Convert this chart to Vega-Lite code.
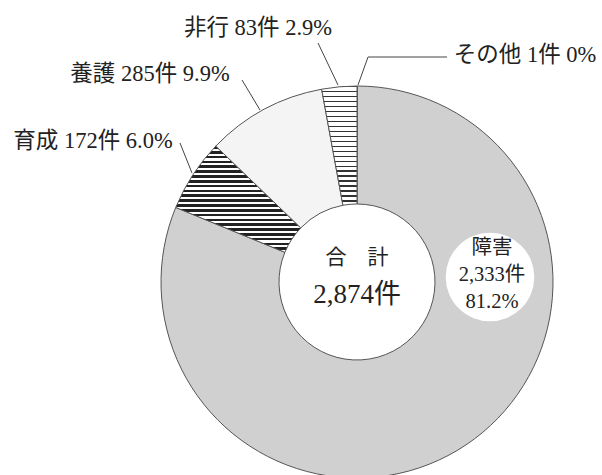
{
  "$schema": "https://vega.github.io/schema/vega-lite/v6.json",
  "width": 400,
  "height": 386,
  "autosize": {"type": "none"},
  "padding": {"left": 157, "top": 89, "right": 45, "bottom": 0},
  "background": "white",
  "config": {"view": {"stroke": null}, "text": {"font": "Liberation Serif, Noto Sans CJK JP", "color": "#222"}},
  "datasets": {
    "slices": [
      {"cat": "その他", "count": 1, "pct": 0.0, "ord": 1},
      {"cat": "障害", "count": 2333, "pct": 81.2, "ord": 2},
      {"cat": "育成", "count": 172, "pct": 6.0, "ord": 3},
      {"cat": "養護", "count": 285, "pct": 9.9, "ord": 4},
      {"cat": "非行", "count": 83, "pct": 2.9, "ord": 5}
    ],
    "outer_labels": [
      {"label": "非行 83件 2.9%", "lx": -0.495, "ly": 1.27},
      {"label": "その他 1件 0%", "lx": 0.84, "ly": 1.135},
      {"label": "養護 285件 9.9%", "lx": -1.035, "ly": 1.04},
      {"label": "育成 172件 6.0%", "lx": -1.32, "ly": 0.705}
    ],
    "leaders": [
      {"x": -0.195, "y": 1.195, "x2": -0.095, "y2": 0.985},
      {"x": 0.005, "y": 0.985, "x2": 0.055, "y2": 1.125},
      {"x": 0.055, "y": 1.125, "x2": 0.45, "y2": 1.125},
      {"x": -0.575, "y": 1.01, "x2": -0.485, "y2": 0.86},
      {"x": -0.885, "y": 0.695, "x2": -0.825, "y2": 0.545}
    ],
    "main_label": [
      {"label": "障害", "lx": 0.675, "ly": 0.17},
      {"label": "2,333件", "lx": 0.675, "ly": 0.035},
      {"label": "81.2%", "lx": 0.675, "ly": -0.1}
    ],
    "main_bg": [{"lx": 0.665, "ly": 0.025}],
    "center_title": [{"label": "合　計", "lx": 0, "ly": 0.12}],
    "center_total": [{"label": "2,874件", "lx": 0, "ly": -0.065}]
  },
  "layer": [
    {
      "data": {"name": "slices"},
      "mark": {"type": "arc", "outerRadius": 196, "innerRadius": 78, "stroke": "#555", "strokeWidth": 1},
      "encoding": {
        "theta": {"field": "count", "type": "quantitative", "stack": true},
        "order": {"field": "ord", "type": "quantitative", "sort": "ascending"},
        "fill": {
          "condition": [
            {"test": "datum.cat === '障害'", "value": "#d0d0d0"},
            {"test": "datum.cat === '養護'", "value": "#f4f4f4"},
            {"test": "datum.cat === '育成'", "value": {
              "gradient": "linear", "x1": 0, "y1": 0, "x2": 0, "y2": 1,
              "stops": [
                {"offset": 0, "color": "#222"}, {"offset": 0.025, "color": "#222"}, {"offset": 0.025, "color": "#fff"}, {"offset": 0.04545, "color": "#fff"},
                {"offset": 0.04545, "color": "#222"}, {"offset": 0.07045, "color": "#222"}, {"offset": 0.07045, "color": "#fff"}, {"offset": 0.09091, "color": "#fff"},
                {"offset": 0.09091, "color": "#222"}, {"offset": 0.11591, "color": "#222"}, {"offset": 0.11591, "color": "#fff"}, {"offset": 0.13636, "color": "#fff"},
                {"offset": 0.13636, "color": "#222"}, {"offset": 0.16136, "color": "#222"}, {"offset": 0.16136, "color": "#fff"}, {"offset": 0.18182, "color": "#fff"},
                {"offset": 0.18182, "color": "#222"}, {"offset": 0.20682, "color": "#222"}, {"offset": 0.20682, "color": "#fff"}, {"offset": 0.22727, "color": "#fff"},
                {"offset": 0.22727, "color": "#222"}, {"offset": 0.25227, "color": "#222"}, {"offset": 0.25227, "color": "#fff"}, {"offset": 0.27273, "color": "#fff"},
                {"offset": 0.27273, "color": "#222"}, {"offset": 0.29773, "color": "#222"}, {"offset": 0.29773, "color": "#fff"}, {"offset": 0.31818, "color": "#fff"},
                {"offset": 0.31818, "color": "#222"}, {"offset": 0.34318, "color": "#222"}, {"offset": 0.34318, "color": "#fff"}, {"offset": 0.36364, "color": "#fff"},
                {"offset": 0.36364, "color": "#222"}, {"offset": 0.38864, "color": "#222"}, {"offset": 0.38864, "color": "#fff"}, {"offset": 0.40909, "color": "#fff"},
                {"offset": 0.40909, "color": "#222"}, {"offset": 0.43409, "color": "#222"}, {"offset": 0.43409, "color": "#fff"}, {"offset": 0.45455, "color": "#fff"},
                {"offset": 0.45455, "color": "#222"}, {"offset": 0.47955, "color": "#222"}, {"offset": 0.47955, "color": "#fff"}, {"offset": 0.5, "color": "#fff"},
                {"offset": 0.5, "color": "#222"}, {"offset": 0.525, "color": "#222"}, {"offset": 0.525, "color": "#fff"}, {"offset": 0.54545, "color": "#fff"},
                {"offset": 0.54545, "color": "#222"}, {"offset": 0.57045, "color": "#222"}, {"offset": 0.57045, "color": "#fff"}, {"offset": 0.59091, "color": "#fff"},
                {"offset": 0.59091, "color": "#222"}, {"offset": 0.61591, "color": "#222"}, {"offset": 0.61591, "color": "#fff"}, {"offset": 0.63636, "color": "#fff"},
                {"offset": 0.63636, "color": "#222"}, {"offset": 0.66136, "color": "#222"}, {"offset": 0.66136, "color": "#fff"}, {"offset": 0.68182, "color": "#fff"},
                {"offset": 0.68182, "color": "#222"}, {"offset": 0.70682, "color": "#222"}, {"offset": 0.70682, "color": "#fff"}, {"offset": 0.72727, "color": "#fff"},
                {"offset": 0.72727, "color": "#222"}, {"offset": 0.75227, "color": "#222"}, {"offset": 0.75227, "color": "#fff"}, {"offset": 0.77273, "color": "#fff"},
                {"offset": 0.77273, "color": "#222"}, {"offset": 0.79773, "color": "#222"}, {"offset": 0.79773, "color": "#fff"}, {"offset": 0.81818, "color": "#fff"},
                {"offset": 0.81818, "color": "#222"}, {"offset": 0.84318, "color": "#222"}, {"offset": 0.84318, "color": "#fff"}, {"offset": 0.86364, "color": "#fff"},
                {"offset": 0.86364, "color": "#222"}, {"offset": 0.88864, "color": "#222"}, {"offset": 0.88864, "color": "#fff"}, {"offset": 0.90909, "color": "#fff"},
                {"offset": 0.90909, "color": "#222"}, {"offset": 0.93409, "color": "#222"}, {"offset": 0.93409, "color": "#fff"}, {"offset": 0.95455, "color": "#fff"},
                {"offset": 0.95455, "color": "#222"}, {"offset": 0.97955, "color": "#222"}, {"offset": 0.97955, "color": "#fff"}, {"offset": 1, "color": "#fff"}
              ]
            }},
            {"test": "datum.cat === '非行'", "value": {
              "gradient": "linear", "x1": 0, "y1": 0, "x2": 0, "y2": 1,
              "stops": [
                {"offset": 0, "color": "#333"}, {"offset": 0.01167, "color": "#333"}, {"offset": 0.01167, "color": "#fff"}, {"offset": 0.04167, "color": "#fff"},
                {"offset": 0.04167, "color": "#333"}, {"offset": 0.05333, "color": "#333"}, {"offset": 0.05333, "color": "#fff"}, {"offset": 0.08333, "color": "#fff"},
                {"offset": 0.08333, "color": "#333"}, {"offset": 0.095, "color": "#333"}, {"offset": 0.095, "color": "#fff"}, {"offset": 0.125, "color": "#fff"},
                {"offset": 0.125, "color": "#333"}, {"offset": 0.13667, "color": "#333"}, {"offset": 0.13667, "color": "#fff"}, {"offset": 0.16667, "color": "#fff"},
                {"offset": 0.16667, "color": "#333"}, {"offset": 0.17833, "color": "#333"}, {"offset": 0.17833, "color": "#fff"}, {"offset": 0.20833, "color": "#fff"},
                {"offset": 0.20833, "color": "#333"}, {"offset": 0.22, "color": "#333"}, {"offset": 0.22, "color": "#fff"}, {"offset": 0.25, "color": "#fff"},
                {"offset": 0.25, "color": "#333"}, {"offset": 0.26167, "color": "#333"}, {"offset": 0.26167, "color": "#fff"}, {"offset": 0.29167, "color": "#fff"},
                {"offset": 0.29167, "color": "#333"}, {"offset": 0.30333, "color": "#333"}, {"offset": 0.30333, "color": "#fff"}, {"offset": 0.33333, "color": "#fff"},
                {"offset": 0.33333, "color": "#333"}, {"offset": 0.345, "color": "#333"}, {"offset": 0.345, "color": "#fff"}, {"offset": 0.375, "color": "#fff"},
                {"offset": 0.375, "color": "#333"}, {"offset": 0.38667, "color": "#333"}, {"offset": 0.38667, "color": "#fff"}, {"offset": 0.41667, "color": "#fff"},
                {"offset": 0.41667, "color": "#333"}, {"offset": 0.42833, "color": "#333"}, {"offset": 0.42833, "color": "#fff"}, {"offset": 0.45833, "color": "#fff"},
                {"offset": 0.45833, "color": "#333"}, {"offset": 0.47, "color": "#333"}, {"offset": 0.47, "color": "#fff"}, {"offset": 0.5, "color": "#fff"},
                {"offset": 0.5, "color": "#333"}, {"offset": 0.51167, "color": "#333"}, {"offset": 0.51167, "color": "#fff"}, {"offset": 0.54167, "color": "#fff"},
                {"offset": 0.54167, "color": "#333"}, {"offset": 0.55333, "color": "#333"}, {"offset": 0.55333, "color": "#fff"}, {"offset": 0.58333, "color": "#fff"},
                {"offset": 0.58333, "color": "#333"}, {"offset": 0.595, "color": "#333"}, {"offset": 0.595, "color": "#fff"}, {"offset": 0.625, "color": "#fff"},
                {"offset": 0.625, "color": "#333"}, {"offset": 0.63667, "color": "#333"}, {"offset": 0.63667, "color": "#fff"}, {"offset": 0.66667, "color": "#fff"},
                {"offset": 0.66667, "color": "#333"}, {"offset": 0.67833, "color": "#333"}, {"offset": 0.67833, "color": "#fff"}, {"offset": 0.70833, "color": "#fff"},
                {"offset": 0.70833, "color": "#333"}, {"offset": 0.72, "color": "#333"}, {"offset": 0.72, "color": "#fff"}, {"offset": 0.75, "color": "#fff"},
                {"offset": 0.75, "color": "#333"}, {"offset": 0.76167, "color": "#333"}, {"offset": 0.76167, "color": "#fff"}, {"offset": 0.79167, "color": "#fff"},
                {"offset": 0.79167, "color": "#333"}, {"offset": 0.80333, "color": "#333"}, {"offset": 0.80333, "color": "#fff"}, {"offset": 0.83333, "color": "#fff"},
                {"offset": 0.83333, "color": "#333"}, {"offset": 0.845, "color": "#333"}, {"offset": 0.845, "color": "#fff"}, {"offset": 0.875, "color": "#fff"},
                {"offset": 0.875, "color": "#333"}, {"offset": 0.88667, "color": "#333"}, {"offset": 0.88667, "color": "#fff"}, {"offset": 0.91667, "color": "#fff"},
                {"offset": 0.91667, "color": "#333"}, {"offset": 0.92833, "color": "#333"}, {"offset": 0.92833, "color": "#fff"}, {"offset": 0.95833, "color": "#fff"},
                {"offset": 0.95833, "color": "#333"}, {"offset": 0.97, "color": "#333"}, {"offset": 0.97, "color": "#fff"}, {"offset": 1, "color": "#fff"}
              ]
            }}
          ],
          "value": "#ffffff"
        }
      }
    },
    {
      "data": {"name": "main_bg"},
      "mark": {"type": "point", "shape": "circle", "filled": true, "color": "white", "opacity": 1, "size": 7850, "strokeWidth": 0},
      "encoding": {
        "x": {"field": "lx", "type": "quantitative", "scale": {"domain": [-1, 1], "nice": false, "zero": false}, "axis": null},
        "y": {"field": "ly", "type": "quantitative", "scale": {"domain": [-0.965, 0.965], "nice": false, "zero": false}, "axis": null}
      }
    },
    {
      "data": {"name": "leaders"},
      "mark": {"type": "rule", "color": "#444", "strokeWidth": 1},
      "encoding": {
        "x": {"field": "x", "type": "quantitative"},
        "y": {"field": "y", "type": "quantitative"},
        "x2": {"field": "x2"},
        "y2": {"field": "y2"}
      }
    },
    {
      "data": {"name": "outer_labels"},
      "mark": {"type": "text", "fontSize": 22.5, "align": "center", "baseline": "middle"},
      "encoding": {
        "x": {"field": "lx", "type": "quantitative"},
        "y": {"field": "ly", "type": "quantitative"},
        "text": {"field": "label"}
      }
    },
    {
      "data": {"name": "main_label"},
      "mark": {"type": "text", "fontSize": 20.5, "align": "center", "baseline": "middle"},
      "encoding": {
        "x": {"field": "lx", "type": "quantitative"},
        "y": {"field": "ly", "type": "quantitative"},
        "text": {"field": "label"}
      }
    },
    {
      "data": {"name": "center_title"},
      "mark": {"type": "text", "fontSize": 21, "align": "center", "baseline": "middle"},
      "encoding": {
        "x": {"field": "lx", "type": "quantitative"},
        "y": {"field": "ly", "type": "quantitative"},
        "text": {"field": "label"}
      }
    },
    {
      "data": {"name": "center_total"},
      "mark": {"type": "text", "fontSize": 27, "align": "center", "baseline": "middle"},
      "encoding": {
        "x": {"field": "lx", "type": "quantitative"},
        "y": {"field": "ly", "type": "quantitative"},
        "text": {"field": "label"}
      }
    }
  ]
}
